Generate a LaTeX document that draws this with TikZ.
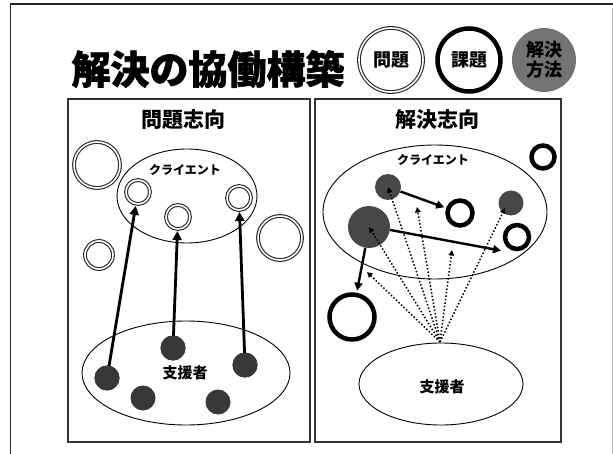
\documentclass[tikz,border=0pt]{standalone}
\usepackage{fontspec}
\newfontfamily\cjk{Noto Sans CJK JP}
\newfontfamily\cjkt{Noto Sans CJK JP}[BoldFeatures={FakeBold=1.6}]
\usetikzlibrary{shapes.geometric,arrows.meta}
\begin{document}
\begin{tikzpicture}[x=1pt,y=-1pt,
  ring/.style={circle,draw=black!85,double=white,line width=1.1pt,double distance=1.6pt,inner sep=0pt,minimum size=#1},
  dot/.style={circle,fill=black!78,inner sep=0pt,minimum size=#1},
  gdot/.style={circle,fill=black!72,inner sep=0pt,minimum size=#1},
  bring/.style={circle,draw=black,line width=4.5pt,inner sep=0pt,minimum size=#1},
  region/.style={ellipse,draw=black,line width=0.9pt,inner sep=0pt},
  panel/.style={draw=black!80,line width=1.3pt},
  bigarrow/.style={line width=2.8pt,-{Triangle[length=9pt,width=9pt]},shorten >=1.5pt},
  sarrow/.style={line width=2.4pt,-{Triangle[length=8pt,width=8pt]},shorten >=2pt},
  dotarrow/.style={line width=1.5pt,dotted,-{Triangle[length=5.5pt,width=5.5pt]}},
  jp/.style={font=\cjk\bfseries\fontsize{#1}{#1}\selectfont,inner sep=0pt}
]
\useasboundingbox (0,0) rectangle (613,454);
\fill[white] (0,0) rectangle (613,454);
% outer frame
\draw[black!85,line width=1.3pt] (613,4) -- (10.5,4) -- (10.5,454);
\draw[black!25,line width=0.8pt] (612,8) -- (612,454);

% title
\node[font=\cjkt\bfseries\fontsize{39pt}{39pt}\selectfont,inner sep=0pt] (title) at (208,69) {解決の協働構築};

% legend
\node[ring=64pt] (lg1) at (391,60) {};
\node[jp=18pt] (lg1t) at (lg1) {問題};
\node[bring=63pt] (lg2) at (469,60) {};
\node[jp=18pt] (lg2t) at (lg2) {課題};
\node[circle,fill=black!55,inner sep=0pt,minimum size=64pt] (lg3) at (544,60) {};
\node[jp=18pt,align=center] (lg3t) at (lg3) {解決\\[2pt]方法};

% panels
\draw[panel] (68,99) rectangle (310,442);
\draw[panel] (315,99) rectangle (561,442);

% ---------------- left panel
\node[jp=21pt] (ltitle) at (183,120) {問題志向};
\node[region,minimum width=140pt,minimum height=94pt] (lclient) at (187,196) {};
\node[jp=12pt] (lclientt) at (185,170) {クライエント};
\node[region,minimum width=208pt,minimum height=104pt] (lsup) at (186,373) {};
\node[jp=15pt] (lsupt) at (185,373) {支援者};

\node[ring=24pt] (r1) at (138,192) {};
\node[ring=24pt] (r2) at (178,217) {};
\node[ring=24pt] (r3) at (239,198) {};
\node[ring=46pt] (r4) at (97,165) {};
\node[ring=28pt] (r5) at (99,255) {};
\node[ring=44pt] (r6) at (280,238) {};

\node[dot=25pt] (d1) at (107,378) {};
\node[dot=25pt] (d2) at (143,398) {};
\node[dot=25pt] (d3) at (173,348) {};
\node[dot=25pt] (d4) at (218,402) {};
\node[dot=25pt] (d5) at (245,365) {};

\draw[bigarrow] (d1.center) -- (r1);
\draw[bigarrow] (d3.center) -- (r2);
\draw[bigarrow] (d5.center) -- (r3);
\node[dot=25pt] at (d1) {};
\node[dot=25pt] at (d3) {};
\node[dot=25pt] at (d5) {};

% ---------------- right panel
\node[jp=21pt] (rtitle) at (437,120) {解決志向};
\node[region,minimum width=224pt,minimum height=134pt] (rclient) at (435,212) {};
\node[jp=12pt] (rclientt) at (433,160) {クライエント};
\node[region,minimum width=164pt,minimum height=82pt] (rsup) at (441,384) {};
\node[jp=15pt] (rsupt) at (442,387) {支援者};

\node[gdot=26pt] (g1) at (388,187) {};
\node[gdot=42pt] (g2) at (369,227) {};
\node[gdot=25pt] (g3) at (511,203) {};

\node[bring=25pt] (b1) at (460,213) {};
\node[bring=24pt] (b2) at (517,237) {};
\node[bring=23pt] (b3) at (543,157) {};
\node[bring=45pt] (b4) at (352,317) {};

\coordinate (apex) at (440,342);
\coordinate (ta) at (417,207);
\coordinate (tb) at (452,250);
\coordinate (tc) at (505,208);
\coordinate (td) at (367,272);
\coordinate (te) at (503,251);

\draw[sarrow] (g1) -- (b1);
\draw[sarrow] (g2.-8) -- (te);
\draw[sarrow] (g2.-100) -- (b4);

\draw[dotarrow] (apex) -- (g1.center);
\draw[dotarrow] (apex) -- (ta);
\draw[dotarrow] (apex) -- (g2.center);
\draw[dotarrow] (apex) -- (tb);
\draw[dotarrow] (apex) -- (tc);
\draw[dotarrow] (apex) -- (td);
\end{tikzpicture}
\end{document}
